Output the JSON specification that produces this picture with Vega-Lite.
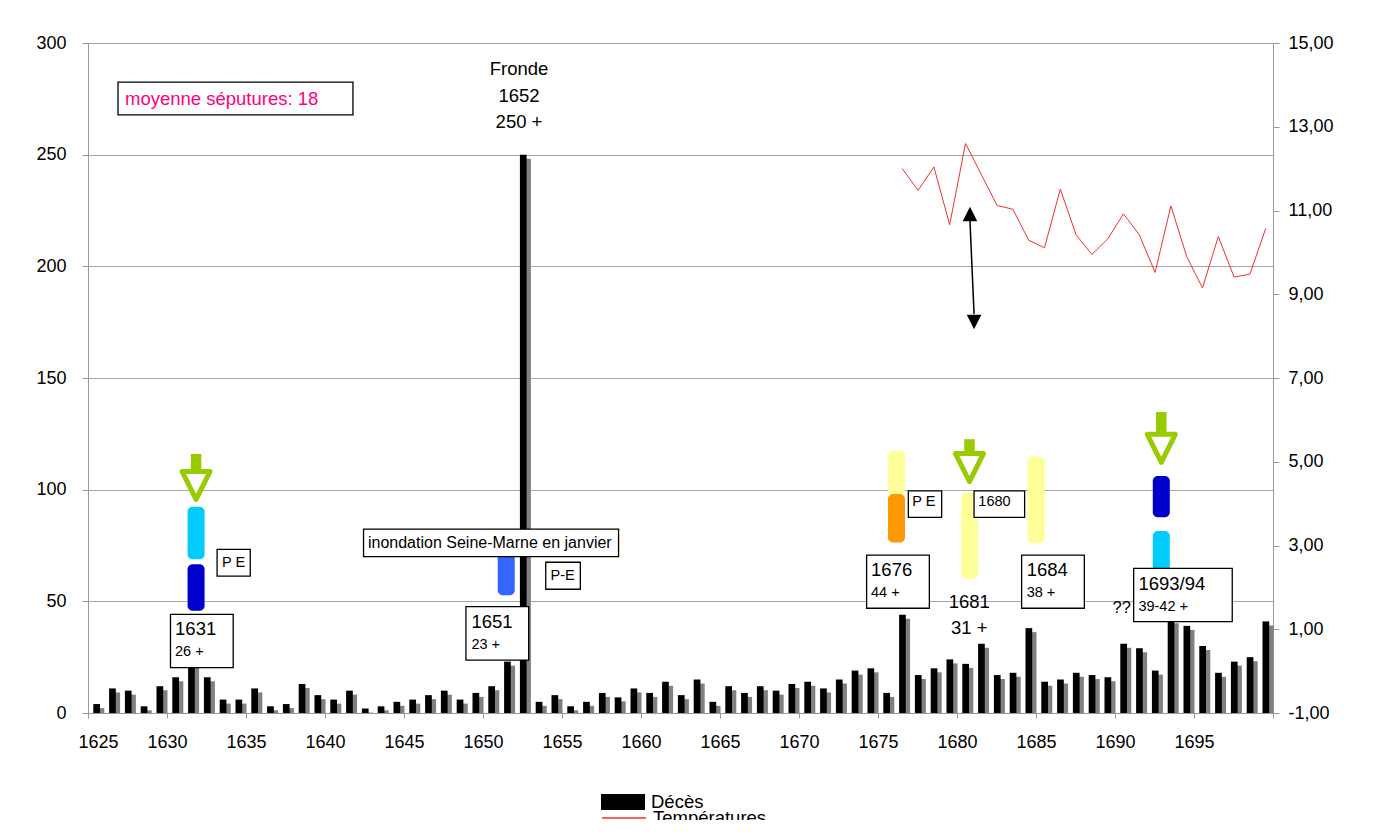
{
  "$schema": "https://vega.github.io/schema/vega-lite/v6.json",
  "width": 1185,
  "height": 670,
  "autosize": {"type": "none"},
  "padding": {"left": 88, "top": 43, "right": 101, "bottom": 107},
  "background": "white",
  "config": {
    "font": "Liberation Sans",
    "view": {"stroke": null},
    "axis": {"labelFont": "Liberation Sans", "labelColor": "black", "labelFontSize": 18, "domainColor": "#999999", "tickColor": "#999999", "domainWidth": 1, "tickWidth": 1},
    "legend": {"labelFont": "Liberation Sans", "labelColor": "black"}
  },
  "datasets": {
    "deaths": [
      {"year":1625,"deces":4},{"year":1626,"deces":11},{"year":1627,"deces":10},{"year":1628,"deces":3},{"year":1629,"deces":12},
      {"year":1630,"deces":16},{"year":1631,"deces":26},{"year":1632,"deces":16},{"year":1633,"deces":6},{"year":1634,"deces":6},
      {"year":1635,"deces":11},{"year":1636,"deces":3},{"year":1637,"deces":4},{"year":1638,"deces":13},{"year":1639,"deces":8},
      {"year":1640,"deces":6},{"year":1641,"deces":10},{"year":1642,"deces":2},{"year":1643,"deces":3},{"year":1644,"deces":5},
      {"year":1645,"deces":6},{"year":1646,"deces":8},{"year":1647,"deces":10},{"year":1648,"deces":6},{"year":1649,"deces":9},
      {"year":1650,"deces":12},{"year":1651,"deces":23},{"year":1652,"deces":250},{"year":1653,"deces":5},{"year":1654,"deces":8},
      {"year":1655,"deces":3},{"year":1656,"deces":5},{"year":1657,"deces":9},{"year":1658,"deces":7},{"year":1659,"deces":11},
      {"year":1660,"deces":9},{"year":1661,"deces":14},{"year":1662,"deces":8},{"year":1663,"deces":15},{"year":1664,"deces":5},
      {"year":1665,"deces":12},{"year":1666,"deces":9},{"year":1667,"deces":12},{"year":1668,"deces":10},{"year":1669,"deces":13},
      {"year":1670,"deces":14},{"year":1671,"deces":11},{"year":1672,"deces":15},{"year":1673,"deces":19},{"year":1674,"deces":20},
      {"year":1675,"deces":9},{"year":1676,"deces":44},{"year":1677,"deces":17},{"year":1678,"deces":20},{"year":1679,"deces":24},
      {"year":1680,"deces":22},{"year":1681,"deces":31},{"year":1682,"deces":17},{"year":1683,"deces":18},{"year":1684,"deces":38},
      {"year":1685,"deces":14},{"year":1686,"deces":15},{"year":1687,"deces":18},{"year":1688,"deces":17},{"year":1689,"deces":16},
      {"year":1690,"deces":31},{"year":1691,"deces":29},{"year":1692,"deces":19},{"year":1693,"deces":42},{"year":1694,"deces":39},
      {"year":1695,"deces":30},{"year":1696,"deces":18},{"year":1697,"deces":23},{"year":1698,"deces":25},{"year":1699,"deces":41}
    ],
    "temps": [
      {"year":1676,"temp":12.0},{"year":1677,"temp":11.48},{"year":1678,"temp":12.04},{"year":1679,"temp":10.66},
      {"year":1680,"temp":12.6},{"year":1681,"temp":11.86},{"year":1682,"temp":11.12},{"year":1683,"temp":11.03},
      {"year":1684,"temp":10.29},{"year":1685,"temp":10.11},{"year":1686,"temp":11.51},{"year":1687,"temp":10.42},
      {"year":1688,"temp":9.95},{"year":1689,"temp":10.32},{"year":1690,"temp":10.92},{"year":1691,"temp":10.42},
      {"year":1692,"temp":9.52},{"year":1693,"temp":11.11},{"year":1694,"temp":9.9},{"year":1695,"temp":9.15},
      {"year":1696,"temp":10.38},{"year":1697,"temp":9.41},{"year":1698,"temp":9.48},{"year":1699,"temp":10.57}
    ],
    "capsules": [
      {"x":1631.84,"bas":68.8,"haut":92.4,"cat":"bleu clair"},
      {"x":1631.84,"bas":45.8,"haut":66.6,"cat":"bleu fonce"},
      {"x":1651.47,"bas":52.7,"haut":72,"cat":"bleu"},
      {"x":1676.17,"bas":97.6,"haut":117.4,"cat":"jaune"},
      {"x":1676.17,"bas":76.3,"haut":98.1,"cat":"orange"},
      {"x":1680.8,"bas":60.0,"haut":98.6,"cat":"jaune"},
      {"x":1685.01,"bas":76.0,"haut":114.8,"cat":"jaune"},
      {"x":1692.93,"bas":87.6,"haut":106.1,"cat":"bleu fonce"},
      {"x":1692.93,"bas":62,"haut":81.5,"cat":"bleu clair"}
    ],
    "fleches": [
      {"x":1631.84,"haut":116.0,"bas":105,"tete":101.9},
      {"x":1680.79,"haut":122.6,"bas":111,"tete":109.9},
      {"x":1692.93,"haut":134.8,"bas":121,"tete":118.5}
    ],
    "double": [{"xa":1680.82,"ya":220.5,"xb":1681.08,"yb":178.6}],
    "pointes": [{"x":1680.82,"y":223.4,"sens":"haut"},{"x":1681.08,"y":175.1,"sens":"bas"}],
    "cadres": [
      {"xa":1626.9,"xb":1641.77,"ya":267.8,"yb":282.5},
      {"xa":1633.17,"xb":1635.27,"ya":61.3,"yb":73.3},
      {"xa":1630.22,"xb":1634.19,"ya":20.3,"yb":44.2},
      {"xa":1642.44,"xb":1658.58,"ya":70.0,"yb":82.3},
      {"xa":1653.97,"xb":1656.16,"ya":55.4,"yb":67.5},
      {"xa":1648.92,"xb":1652.89,"ya":23.7,"yb":47.6},
      {"xa":1676.92,"xb":1679.03,"ya":87.6,"yb":99.5},
      {"xa":1674.28,"xb":1678.25,"ya":46.9,"yb":70.7},
      {"xa":1681.08,"xb":1684.28,"ya":87.6,"yb":99.5},
      {"xa":1684.09,"xb":1688.06,"ya":46.9,"yb":70.7},
      {"xa":1691.18,"xb":1697.42,"ya":40.9,"yb":64.8}
    ],
    "textes": [
      {"x":1630.51,"y":37.5,"texte":"1631","style":"grand"},
      {"x":1649.27,"y":40.9,"texte":"1651","style":"grand"},
      {"x":1674.56,"y":64.0,"texte":"1676","style":"grand"},
      {"x":1684.41,"y":64.0,"texte":"1684","style":"grand"},
      {"x":1691.48,"y":57.8,"texte":"1693/94","style":"grand"},
      {"x":1630.51,"y":27.2,"texte":"26 +","style":"petit"},
      {"x":1649.27,"y":30.4,"texte":"23 +","style":"petit"},
      {"x":1674.56,"y":53.6,"texte":"44 +","style":"petit"},
      {"x":1684.41,"y":53.6,"texte":"38 +","style":"petit"},
      {"x":1691.48,"y":47.6,"texte":"39-42 +","style":"petit"},
      {"x":1633.48,"y":67.3,"texte":"P E","style":"petit"},
      {"x":1654.28,"y":61.4,"texte":"P-E","style":"petit"},
      {"x":1677.17,"y":94.3,"texte":"P E","style":"petit"},
      {"x":1681.35,"y":94.6,"texte":"1680","style":"petit"},
      {"x":1642.72,"y":76.1,"texte":"inondation Seine-Marne en janvier","style":"moyen"},
      {"x":1652.28,"y":288.4,"texte":"Fronde","style":"centre"},
      {"x":1652.28,"y":276.3,"texte":"1652","style":"centre"},
      {"x":1652.28,"y":264.6,"texte":"250 +","style":"centre"},
      {"x":1680.78,"y":49.8,"texte":"1681","style":"centre"},
      {"x":1680.78,"y":37.9,"texte":"31 +","style":"centre"},
      {"x":1691.01,"y":46.9,"texte":"??","style":"droite"},
      {"x":1627.34,"y":275.1,"texte":"moyenne séputures: 18","style":"rose"}
    ]
  },
  "layer": [
    {
      "layer": [
        {
          "data": {"name": "deaths"},
          "mark": {"type": "bar", "color": "#808080", "xOffset": 9, "x2Offset": 16.3, "yOffset": 4},
          "encoding": {
            "x": {"field": "year", "type": "quantitative", "scale": {"domain": [1625, 1700], "nice": false, "zero": false},
                  "axis": {"title": null, "values": [1625,1630,1635,1640,1645,1650,1655,1660,1665,1670,1675,1680,1685,1690,1695,1700], "format": "d", "labelExpr": "datum.value == 1700 ? '' : datum.label", "grid": false, "tickSize": 5, "labelPadding": 15, "labelFlush": true, "labelFlushOffset": 10}},
            "x2": {"field": "year"},
            "y": {"field": "deces", "type": "quantitative", "scale": {"domain": [0, 300], "nice": false},
                  "axis": {"title": null, "values": [0,50,100,150,200,250,300], "grid": true, "gridColor": "#a6a6a6", "tickSize": 6, "labelPadding": 16}},
            "y2": {"datum": 0}
          }
        },
        {
          "data": {"name": "deaths"},
          "mark": {"type": "bar", "xOffset": 5.3, "x2Offset": 12},
          "encoding": {
            "x": {"field": "year", "type": "quantitative", "scale": {"domain": [1625, 1700], "nice": false, "zero": false},
                  "axis": {"title": null, "values": [1625,1630,1635,1640,1645,1650,1655,1660,1665,1670,1675,1680,1685,1690,1695,1700], "format": "d", "labelExpr": "datum.value == 1700 ? '' : datum.label", "grid": false, "tickSize": 5, "labelPadding": 15, "labelFlush": true, "labelFlushOffset": 10}},
            "x2": {"field": "year"},
            "y": {"field": "deces", "type": "quantitative", "scale": {"domain": [0, 300], "nice": false},
                  "axis": {"title": null, "values": [0,50,100,150,200,250,300], "grid": true, "gridColor": "#a6a6a6", "tickSize": 6, "labelPadding": 16}},
            "y2": {"datum": 0},
            "fill": {"datum": "Décès", "type": "nominal", "scale": {"domain": ["Décès"], "range": ["#000000"]},
                     "legend": {"orient": "none", "legendX": 513, "legendY": 737, "title": null, "symbolType": "M-1,-0.36L1,-0.36L1,0.36L-1,0.36Z", "symbolSize": 1936, "symbolStrokeWidth": 0, "labelFontSize": 18.5, "labelOffset": 6, "padding": 0}}
          }
        },
        {
          "data": {"name": "capsules"},
          "mark": {"type": "bar", "cornerRadius": 5, "xOffset": -8.5, "x2Offset": 8.5},
          "encoding": {
            "x": {"field": "x", "type": "quantitative", "scale": {"domain": [1625, 1700], "nice": false, "zero": false},
                  "axis": {"title": null, "values": [1625,1630,1635,1640,1645,1650,1655,1660,1665,1670,1675,1680,1685,1690,1695,1700], "format": "d", "labelExpr": "datum.value == 1700 ? '' : datum.label", "grid": false, "tickSize": 5, "labelPadding": 15, "labelFlush": true, "labelFlushOffset": 10}},
            "x2": {"field": "x"},
            "y": {"field": "haut", "type": "quantitative", "scale": {"domain": [0, 300], "nice": false},
                  "axis": {"title": null, "values": [0,50,100,150,200,250,300], "grid": true, "gridColor": "#a6a6a6", "tickSize": 6, "labelPadding": 16}},
            "y2": {"field": "bas"},
            "color": {"field": "cat", "type": "nominal", "scale": {"domain": ["bleu clair", "bleu fonce", "bleu", "jaune", "orange"], "range": ["#00ccff", "#0000cc", "#3366ff", "#ffff99", "#ff9900"]}, "legend": null}
          }
        },
        {
          "data": {"name": "fleches"},
          "mark": {"type": "rule", "color": "#99cc00", "strokeWidth": 10.5},
          "encoding": {
            "x": {"field": "x", "type": "quantitative", "scale": {"domain": [1625, 1700], "nice": false, "zero": false},
                  "axis": {"title": null, "values": [1625,1630,1635,1640,1645,1650,1655,1660,1665,1670,1675,1680,1685,1690,1695,1700], "format": "d", "labelExpr": "datum.value == 1700 ? '' : datum.label", "grid": false, "tickSize": 5, "labelPadding": 15, "labelFlush": true, "labelFlushOffset": 10}},
            "y": {"field": "haut", "type": "quantitative", "scale": {"domain": [0, 300], "nice": false},
                  "axis": {"title": null, "values": [0,50,100,150,200,250,300], "grid": true, "gridColor": "#a6a6a6", "tickSize": 6, "labelPadding": 16}},
            "y2": {"field": "bas"}
          }
        },
        {
          "data": {"name": "fleches"},
          "mark": {"type": "point", "shape": "M-1,-1L1,-1L0,1Z", "size": 784, "filled": true, "fill": "white", "stroke": "#99cc00", "strokeWidth": 5, "strokeJoin": "round", "opacity": 1},
          "encoding": {
            "x": {"field": "x", "type": "quantitative", "scale": {"domain": [1625, 1700], "nice": false, "zero": false},
                  "axis": {"title": null, "values": [1625,1630,1635,1640,1645,1650,1655,1660,1665,1670,1675,1680,1685,1690,1695,1700], "format": "d", "labelExpr": "datum.value == 1700 ? '' : datum.label", "grid": false, "tickSize": 5, "labelPadding": 15, "labelFlush": true, "labelFlushOffset": 10}},
            "y": {"field": "tete", "type": "quantitative", "scale": {"domain": [0, 300], "nice": false},
                  "axis": {"title": null, "values": [0,50,100,150,200,250,300], "grid": true, "gridColor": "#a6a6a6", "tickSize": 6, "labelPadding": 16}}
          }
        },
        {
          "data": {"name": "double"},
          "mark": {"type": "rule", "color": "black", "strokeWidth": 1.5},
          "encoding": {
            "x": {"field": "xa", "type": "quantitative", "scale": {"domain": [1625, 1700], "nice": false, "zero": false},
                  "axis": {"title": null, "values": [1625,1630,1635,1640,1645,1650,1655,1660,1665,1670,1675,1680,1685,1690,1695,1700], "format": "d", "labelExpr": "datum.value == 1700 ? '' : datum.label", "grid": false, "tickSize": 5, "labelPadding": 15, "labelFlush": true, "labelFlushOffset": 10}},
            "x2": {"field": "xb"},
            "y": {"field": "ya", "type": "quantitative", "scale": {"domain": [0, 300], "nice": false},
                  "axis": {"title": null, "values": [0,50,100,150,200,250,300], "grid": true, "gridColor": "#a6a6a6", "tickSize": 6, "labelPadding": 16}},
            "y2": {"field": "yb"}
          }
        },
        {
          "data": {"name": "pointes"},
          "mark": {"type": "point", "size": 213, "filled": true, "color": "black", "opacity": 1},
          "encoding": {
            "x": {"field": "x", "type": "quantitative", "scale": {"domain": [1625, 1700], "nice": false, "zero": false},
                  "axis": {"title": null, "values": [1625,1630,1635,1640,1645,1650,1655,1660,1665,1670,1675,1680,1685,1690,1695,1700], "format": "d", "labelExpr": "datum.value == 1700 ? '' : datum.label", "grid": false, "tickSize": 5, "labelPadding": 15, "labelFlush": true, "labelFlushOffset": 10}},
            "y": {"field": "y", "type": "quantitative", "scale": {"domain": [0, 300], "nice": false},
                  "axis": {"title": null, "values": [0,50,100,150,200,250,300], "grid": true, "gridColor": "#a6a6a6", "tickSize": 6, "labelPadding": 16}},
            "shape": {"field": "sens", "type": "nominal", "scale": {"domain": ["haut", "bas"], "range": ["M0,-1L1,1L-1,1Z", "M-1,-1L1,-1L0,1Z"]}, "legend": null}
          }
        },
        {
          "data": {"name": "cadres"},
          "mark": {"type": "rect", "fill": "white", "stroke": "black", "strokeWidth": 1.3},
          "encoding": {
            "x": {"field": "xa", "type": "quantitative", "scale": {"domain": [1625, 1700], "nice": false, "zero": false},
                  "axis": {"title": null, "values": [1625,1630,1635,1640,1645,1650,1655,1660,1665,1670,1675,1680,1685,1690,1695,1700], "format": "d", "labelExpr": "datum.value == 1700 ? '' : datum.label", "grid": false, "tickSize": 5, "labelPadding": 15, "labelFlush": true, "labelFlushOffset": 10}},
            "x2": {"field": "xb"},
            "y": {"field": "ya", "type": "quantitative", "scale": {"domain": [0, 300], "nice": false},
                  "axis": {"title": null, "values": [0,50,100,150,200,250,300], "grid": true, "gridColor": "#a6a6a6", "tickSize": 6, "labelPadding": 16}},
            "y2": {"field": "yb"}
          }
        },
        {
          "data": {"name": "textes"},
          "transform": [{"filter": {"field": "style", "equal": "grand"}}],
          "mark": {"type": "text", "align": "left", "baseline": "middle", "fontSize": 18.5, "color": "black", "font": "Liberation Sans"},
          "encoding": {
            "x": {"field": "x", "type": "quantitative", "scale": {"domain": [1625, 1700], "nice": false, "zero": false},
                  "axis": {"title": null, "values": [1625,1630,1635,1640,1645,1650,1655,1660,1665,1670,1675,1680,1685,1690,1695,1700], "format": "d", "labelExpr": "datum.value == 1700 ? '' : datum.label", "grid": false, "tickSize": 5, "labelPadding": 15, "labelFlush": true, "labelFlushOffset": 10}},
            "y": {"field": "y", "type": "quantitative", "scale": {"domain": [0, 300], "nice": false},
                  "axis": {"title": null, "values": [0,50,100,150,200,250,300], "grid": true, "gridColor": "#a6a6a6", "tickSize": 6, "labelPadding": 16}},
            "text": {"field": "texte"}
          }
        },
        {
          "data": {"name": "textes"},
          "transform": [{"filter": {"field": "style", "equal": "petit"}}],
          "mark": {"type": "text", "align": "left", "baseline": "middle", "fontSize": 14.5, "color": "black", "font": "Liberation Sans"},
          "encoding": {
            "x": {"field": "x", "type": "quantitative", "scale": {"domain": [1625, 1700], "nice": false, "zero": false},
                  "axis": {"title": null, "values": [1625,1630,1635,1640,1645,1650,1655,1660,1665,1670,1675,1680,1685,1690,1695,1700], "format": "d", "labelExpr": "datum.value == 1700 ? '' : datum.label", "grid": false, "tickSize": 5, "labelPadding": 15, "labelFlush": true, "labelFlushOffset": 10}},
            "y": {"field": "y", "type": "quantitative", "scale": {"domain": [0, 300], "nice": false},
                  "axis": {"title": null, "values": [0,50,100,150,200,250,300], "grid": true, "gridColor": "#a6a6a6", "tickSize": 6, "labelPadding": 16}},
            "text": {"field": "texte"}
          }
        },
        {
          "data": {"name": "textes"},
          "transform": [{"filter": {"field": "style", "equal": "moyen"}}],
          "mark": {"type": "text", "align": "left", "baseline": "middle", "fontSize": 16, "color": "black", "font": "Liberation Sans"},
          "encoding": {
            "x": {"field": "x", "type": "quantitative", "scale": {"domain": [1625, 1700], "nice": false, "zero": false},
                  "axis": {"title": null, "values": [1625,1630,1635,1640,1645,1650,1655,1660,1665,1670,1675,1680,1685,1690,1695,1700], "format": "d", "labelExpr": "datum.value == 1700 ? '' : datum.label", "grid": false, "tickSize": 5, "labelPadding": 15, "labelFlush": true, "labelFlushOffset": 10}},
            "y": {"field": "y", "type": "quantitative", "scale": {"domain": [0, 300], "nice": false},
                  "axis": {"title": null, "values": [0,50,100,150,200,250,300], "grid": true, "gridColor": "#a6a6a6", "tickSize": 6, "labelPadding": 16}},
            "text": {"field": "texte"}
          }
        },
        {
          "data": {"name": "textes"},
          "transform": [{"filter": {"field": "style", "equal": "centre"}}],
          "mark": {"type": "text", "align": "center", "baseline": "middle", "fontSize": 18.5, "color": "black", "font": "Liberation Sans"},
          "encoding": {
            "x": {"field": "x", "type": "quantitative", "scale": {"domain": [1625, 1700], "nice": false, "zero": false},
                  "axis": {"title": null, "values": [1625,1630,1635,1640,1645,1650,1655,1660,1665,1670,1675,1680,1685,1690,1695,1700], "format": "d", "labelExpr": "datum.value == 1700 ? '' : datum.label", "grid": false, "tickSize": 5, "labelPadding": 15, "labelFlush": true, "labelFlushOffset": 10}},
            "y": {"field": "y", "type": "quantitative", "scale": {"domain": [0, 300], "nice": false},
                  "axis": {"title": null, "values": [0,50,100,150,200,250,300], "grid": true, "gridColor": "#a6a6a6", "tickSize": 6, "labelPadding": 16}},
            "text": {"field": "texte"}
          }
        },
        {
          "data": {"name": "textes"},
          "transform": [{"filter": {"field": "style", "equal": "droite"}}],
          "mark": {"type": "text", "align": "right", "baseline": "middle", "fontSize": 16.5, "color": "black", "font": "Liberation Sans"},
          "encoding": {
            "x": {"field": "x", "type": "quantitative", "scale": {"domain": [1625, 1700], "nice": false, "zero": false},
                  "axis": {"title": null, "values": [1625,1630,1635,1640,1645,1650,1655,1660,1665,1670,1675,1680,1685,1690,1695,1700], "format": "d", "labelExpr": "datum.value == 1700 ? '' : datum.label", "grid": false, "tickSize": 5, "labelPadding": 15, "labelFlush": true, "labelFlushOffset": 10}},
            "y": {"field": "y", "type": "quantitative", "scale": {"domain": [0, 300], "nice": false},
                  "axis": {"title": null, "values": [0,50,100,150,200,250,300], "grid": true, "gridColor": "#a6a6a6", "tickSize": 6, "labelPadding": 16}},
            "text": {"field": "texte"}
          }
        },
        {
          "data": {"name": "textes"},
          "transform": [{"filter": {"field": "style", "equal": "rose"}}],
          "mark": {"type": "text", "align": "left", "baseline": "middle", "fontSize": 18.5, "color": "#ff0080", "font": "Liberation Sans"},
          "encoding": {
            "x": {"field": "x", "type": "quantitative", "scale": {"domain": [1625, 1700], "nice": false, "zero": false},
                  "axis": {"title": null, "values": [1625,1630,1635,1640,1645,1650,1655,1660,1665,1670,1675,1680,1685,1690,1695,1700], "format": "d", "labelExpr": "datum.value == 1700 ? '' : datum.label", "grid": false, "tickSize": 5, "labelPadding": 15, "labelFlush": true, "labelFlushOffset": 10}},
            "y": {"field": "y", "type": "quantitative", "scale": {"domain": [0, 300], "nice": false},
                  "axis": {"title": null, "values": [0,50,100,150,200,250,300], "grid": true, "gridColor": "#a6a6a6", "tickSize": 6, "labelPadding": 16}},
            "text": {"field": "texte"}
          }
        }
      ]
    },
    {
      "data": {"name": "temps"},
      "mark": {"type": "line", "strokeWidth": 1, "xOffset": 8.5},
      "encoding": {
        "x": {"field": "year", "type": "quantitative", "scale": {"domain": [1625, 1700], "nice": false, "zero": false},
              "axis": {"title": null, "values": [1625,1630,1635,1640,1645,1650,1655,1660,1665,1670,1675,1680,1685,1690,1695,1700], "format": "d", "labelExpr": "datum.value == 1700 ? '' : datum.label", "grid": false, "tickSize": 5, "labelPadding": 15, "labelFlush": true, "labelFlushOffset": 10}},
        "y": {"field": "temp", "type": "quantitative", "scale": {"domain": [-1, 15], "nice": false, "zero": false},
              "axis": {"orient": "right", "title": null, "values": [-1,1,3,5,7,9,11,13,15], "labelExpr": "datum.value + ',00'", "grid": false, "tickSize": 6, "labelPadding": 9}},
        "stroke": {"datum": "Températures", "type": "nominal", "scale": {"domain": ["Températures"], "range": ["#f03030"]},
                   "legend": {"orient": "none", "legendX": 513, "legendY": 752, "title": null, "symbolType": "stroke", "symbolSize": 1936, "symbolStrokeWidth": 1.5, "labelFontSize": 18.5, "labelOffset": 6, "padding": 0}}
      }
    }
  ],
  "resolve": {"scale": {"y": "independent"}, "axis": {"y": "independent"}}
}
